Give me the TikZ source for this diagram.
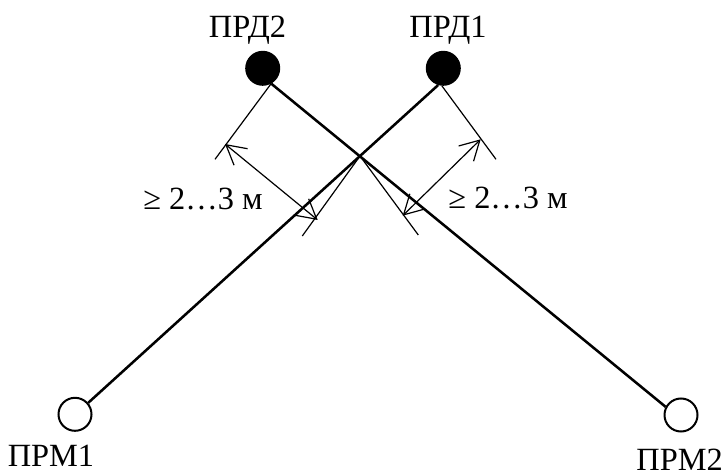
\documentclass[tikz,border=0pt]{standalone}
\usepackage{fontspec}
\setmainfont{Liberation Serif}
\usetikzlibrary{arrows.meta}
\tikzset{
  txnode/.style = {circle, draw, fill=black, line width=1.5pt, inner sep=0pt, minimum size=24.75pt},
  rxnode/.style = {circle, draw, fill=white, line width=1.5pt, inner sep=0pt, minimum size=24.75pt},
  caption/.style = {anchor=base, inner sep=0pt, font=\fontsize{24.3}{28}\selectfont},
  beam/.style = {line width=1.9pt},
  tick/.style = {line width=0.9pt},
  span/.style = {line width=0.9pt, {Straight Barb[length=14.4pt,width=16pt]}-{Straight Barb[length=14.4pt,width=16pt]}}
}
\newcommand{\spanlabel}[2]{
  \node[caption] (#1) at (#2) {≥ 2…3 м};
}
\begin{document}
\begin{tikzpicture}[x=0.75pt,y=-0.75pt]
  \useasboundingbox (0,0) rectangle (724,473);
  \node[txnode] (PRD2) at (262.7,68.3) {};
  \node[txnode] (PRD1) at (443.3,68.3) {};
  \node[rxnode] (PRM1) at (75,414.3) {};
  \node[rxnode] (PRM2) at (681,415) {};
  \node[caption] (tPRD2) at (247.5,37.5) {ПРД2};
  \node[caption] (tPRD1) at (448,37.5) {ПРД1};
  \node[caption] (tPRM1) at (51,466.7) {ПРМ1};
  \node[caption] (tPRM2) at (679.6,470.8) {ПРМ2};
  \spanlabel{spanL}{203,209.8}
  \spanlabel{spanR}{508,209}
  \coordinate (X) at (360,156);
  \coordinate (endL) at (215,159.3);
  \coordinate (endLL) at (302.3,236);
  \coordinate (endR) at (496,159.3);
  \coordinate (endRR) at (418.3,235);
  \coordinate (tipL) at (225,144);
  \coordinate (tipLL) at (317.7,220);
  \coordinate (tipR) at (480.7,139.3);
  \coordinate (tipRR) at (402.7,215.7);
  \draw[beam] (PRD2.-61) -- (PRM2.152);
  \draw[beam] (PRD1.-107) -- (PRM1.41);
  \draw[tick] (PRD2.-61) -- (endL);
  \draw[tick] (X) -- (endLL);
  \draw[tick] (PRD1.-95) -- (endR);
  \draw[tick] (X) -- (endRR);
  \draw[span] (tipL) -- (tipLL);
  \draw[span] (tipR) -- (tipRR);
\end{tikzpicture}
\end{document}
